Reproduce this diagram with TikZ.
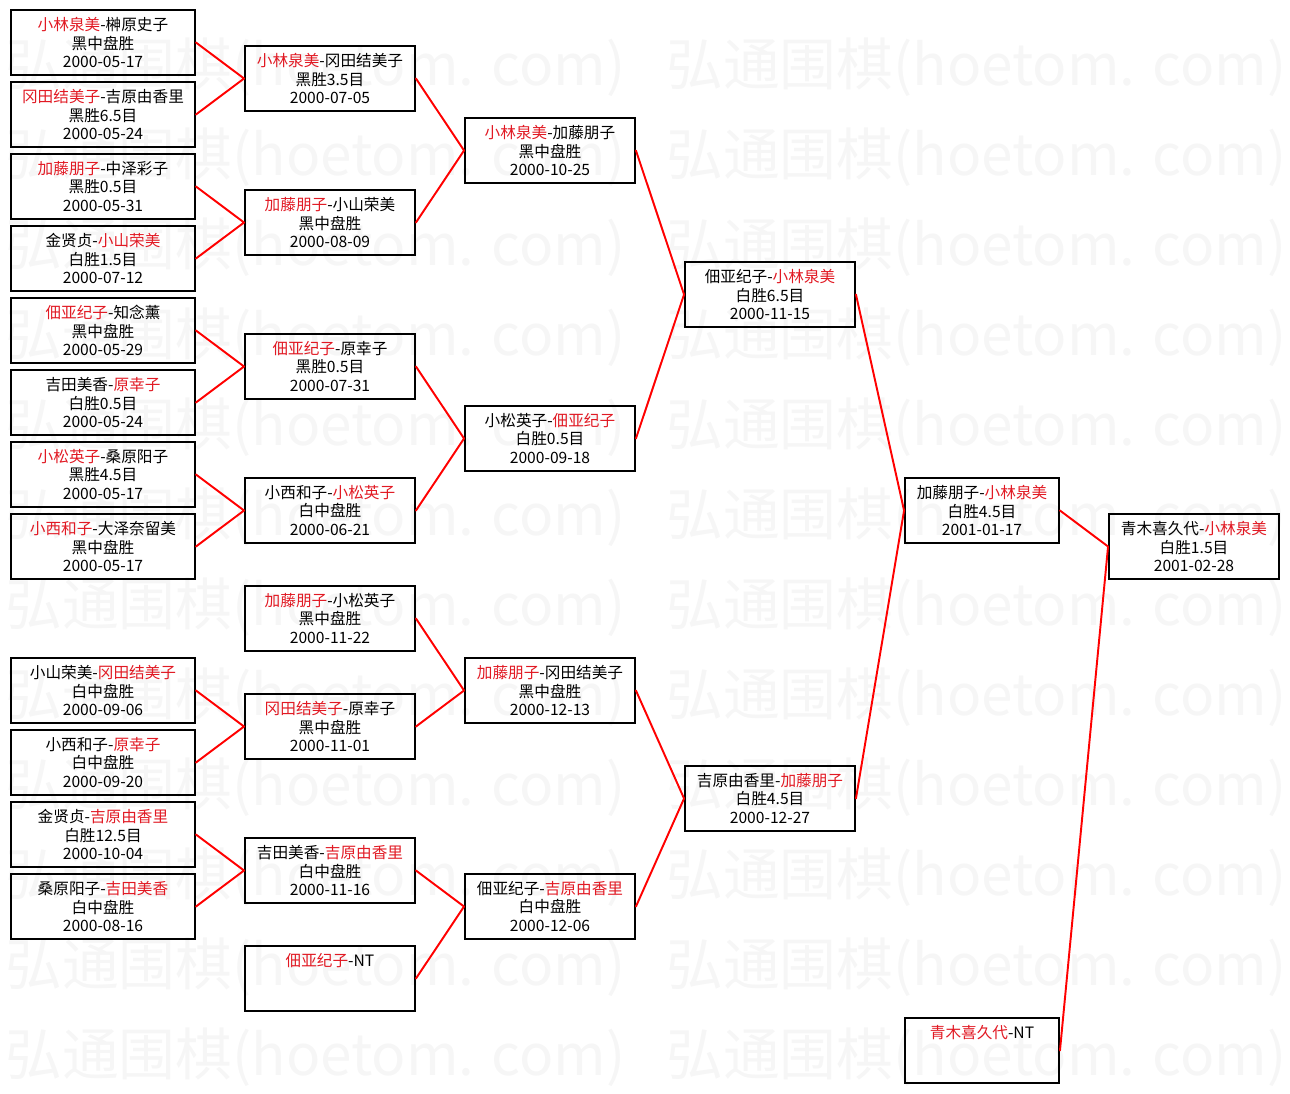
\documentclass[tikz,border=0pt]{standalone}
\usepackage{fontspec}
\setmainfont{Noto Sans CJK SC}
\usepackage{tikz}
\usepackage{graphicx}
\definecolor{winred}{RGB}{225,25,35}
\definecolor{wmgray}{RGB}{246,246,246}
\newcommand{\winner}[1]{\textcolor{winred}{#1}}

\begin{document}
\begin{tikzpicture}[line cap=round,line join=round,x=0.02cm,y=-0.02cm,
        game/.style={draw=black,line width=1.1pt,line join=miter,minimum width=3.4cm,minimum height=1.3cm,inner sep=0pt,align=center,font=\fontsize{8.9}{10.5}\selectfont},
        wide/.style={game,minimum width=3.68cm},
        narrow/.style={game,minimum width=3.08cm},
        link/.style={red,line width=1.1pt},
        wmark/.style={anchor=west,inner sep=0pt,text=wmgray,font=\fontsize{34}{34}\selectfont}]
        \useasboundingbox (0,0) rectangle (1290,1093);
        \foreach \r in {0,...,11}
            \foreach \c in {5,666}
                \node[wmark] (wm-\r-\c) at (\c,67+90*\r) {\resizebox{12.4cm}{!}{弘通围棋(hoetom. com)}};
        \node[wide] (a1) at (103,42.5) {\winner{小林泉美}-榊原史子\\黑中盘胜\\2000-05-17};
        \node[wide] (a2) at (103,114.5) {\winner{冈田结美子}-吉原由香里\\黑胜6.5目\\2000-05-24};
        \node[wide] (a3) at (103,186.5) {\winner{加藤朋子}-中泽彩子\\黑胜0.5目\\2000-05-31};
        \node[wide] (a4) at (103,258.5) {金贤贞-\winner{小山荣美}\\白胜1.5目\\2000-07-12};
        \node[wide] (a5) at (103,330.5) {\winner{佃亚纪子}-知念薰\\黑中盘胜\\2000-05-29};
        \node[wide] (a6) at (103,402.5) {吉田美香-\winner{原幸子}\\白胜0.5目\\2000-05-24};
        \node[wide] (a7) at (103,474.5) {\winner{小松英子}-桑原阳子\\黑胜4.5目\\2000-05-17};
        \node[wide] (a8) at (103,546.5) {\winner{小西和子}-大泽奈留美\\黑中盘胜\\2000-05-17};
        \node[wide] (a9) at (103,690.5) {小山荣美-\winner{冈田结美子}\\白中盘胜\\2000-09-06};
        \node[wide] (a10) at (103,762.5) {小西和子-\winner{原幸子}\\白中盘胜\\2000-09-20};
        \node[wide] (a11) at (103,834.5) {金贤贞-\winner{吉原由香里}\\白胜12.5目\\2000-10-04};
        \node[wide] (a12) at (103,906.5) {桑原阳子-\winner{吉田美香}\\白中盘胜\\2000-08-16};
        \node[game] (b1) at (330,78.5) {\winner{小林泉美}-冈田结美子\\黑胜3.5目\\2000-07-05};
        \node[game] (b2) at (330,222.5) {\winner{加藤朋子}-小山荣美\\黑中盘胜\\2000-08-09};
        \node[game] (b3) at (330,366.5) {\winner{佃亚纪子}-原幸子\\黑胜0.5目\\2000-07-31};
        \node[game] (b4) at (330,510.5) {小西和子-\winner{小松英子}\\白中盘胜\\2000-06-21};
        \node[game] (b5) at (330,618.5) {\winner{加藤朋子}-小松英子\\黑中盘胜\\2000-11-22};
        \node[game] (b6) at (330,726.5) {\winner{冈田结美子}-原幸子\\黑中盘胜\\2000-11-01};
        \node[game] (b7) at (330,870.5) {吉田美香-\winner{吉原由香里}\\白中盘胜\\2000-11-16};
        \node[game] (b8) at (330,978.5) {\winner{佃亚纪子}-NT\\~\\~};
        \node[game] (c1) at (550,150.5) {\winner{小林泉美}-加藤朋子\\黑中盘胜\\2000-10-25};
        \node[game] (c2) at (550,438.5) {小松英子-\winner{佃亚纪子}\\白胜0.5目\\2000-09-18};
        \node[game] (c3) at (550,690.5) {\winner{加藤朋子}-冈田结美子\\黑中盘胜\\2000-12-13};
        \node[game] (c4) at (550,906.5) {佃亚纪子-\winner{吉原由香里}\\白中盘胜\\2000-12-06};
        \node[game] (d1) at (770,294.5) {佃亚纪子-\winner{小林泉美}\\白胜6.5目\\2000-11-15};
        \node[game] (d2) at (770,798.5) {吉原由香里-\winner{加藤朋子}\\白胜4.5目\\2000-12-27};
        \node[narrow] (e1) at (982,510.5) {加藤朋子-\winner{小林泉美}\\白胜4.5目\\2001-01-17};
        \node[narrow] (e2) at (982,1050.5) {\winner{青木喜久代}-NT\\~\\~};
        \node[game] (f1) at (1194,546.5) {青木喜久代-\winner{小林泉美}\\白胜1.5目\\2001-02-28};
        \draw[link] (a1.east) -- (b1.west) -- (a2.east);
        \draw[link] (a3.east) -- (b2.west) -- (a4.east);
        \draw[link] (a5.east) -- (b3.west) -- (a6.east);
        \draw[link] (a7.east) -- (b4.west) -- (a8.east);
        \draw[link] (a9.east) -- (b6.west) -- (a10.east);
        \draw[link] (a11.east) -- (b7.west) -- (a12.east);
        \draw[link] (b1.east) -- (c1.west) -- (b2.east);
        \draw[link] (b3.east) -- (c2.west) -- (b4.east);
        \draw[link] (b5.east) -- (c3.west) -- (b6.east);
        \draw[link] (b7.east) -- (c4.west) -- (b8.east);
        \draw[link] (c1.east) -- (d1.west) -- (c2.east);
        \draw[link] (c3.east) -- (d2.west) -- (c4.east);
        \draw[link] (d1.east) -- (e1.west) -- (d2.east);
        \draw[link] (e1.east) -- (f1.west) -- (e2.east);
\end{tikzpicture}
\end{document}
